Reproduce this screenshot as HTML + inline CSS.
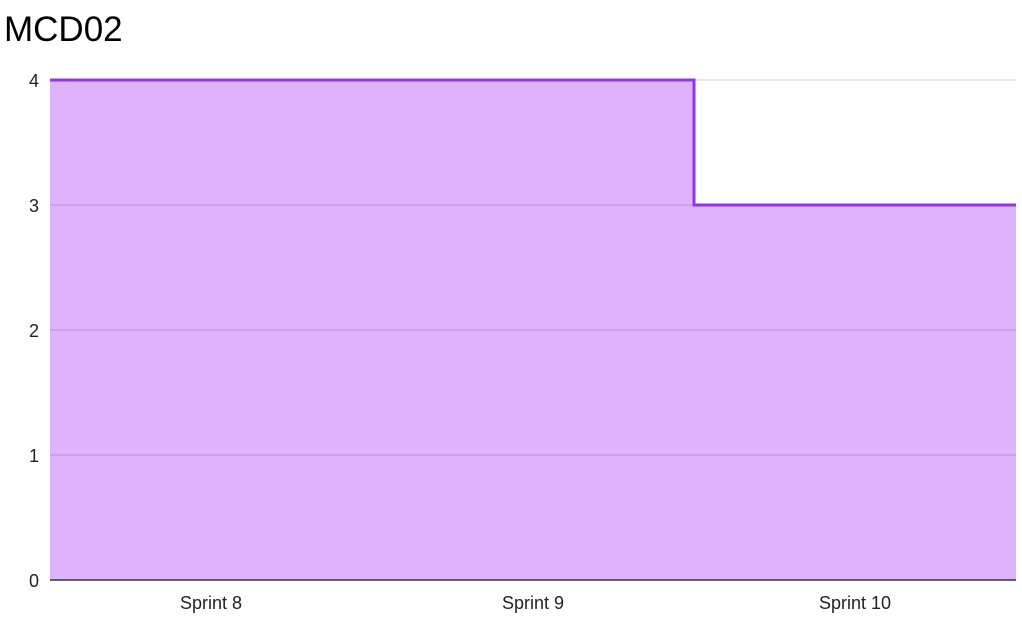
<!DOCTYPE html>
<html><head><meta charset="utf-8"><style>
body{margin:0;background:#fff;width:1022px;height:624px;overflow:hidden;font-family:"Liberation Sans",Arial,sans-serif}
</style></head><body>
<svg width="1022" height="624">
<text x="4" y="41" font-size="35" fill="#000">MCD02</text>
<g id="grid"></g><g id="area"></g><g id="ylabels"></g><g id="xlabels"></g>
</svg>
<script>
const categories=["Sprint 8","Sprint 9","Sprint 10"];
const values=[4,4,3];
const yTicks=[0,1,2,3,4];
const L=50,R=1016,T=80,B=580,yMax=4;
const ns="http://www.w3.org/2000/svg";
const bw=(R-L)/categories.length;
const y=v=>B-(v/yMax)*(B-T);
const x=i=>L+i*bw;
function mk(t,a,p){const e=document.createElementNS(ns,t);for(const k in a)e.setAttribute(k,a[k]);document.getElementById(p).appendChild(e);return e;}
let d="M"+L+","+B;
values.forEach((v,i)=>{d+=" L"+x(i)+","+y(v)+" L"+x(i+1)+","+y(v);});
d+=" L"+R+","+B+" Z";
const a=mk("path",{d:d,fill:"#dfb3fc"},"area");


yTicks.forEach(t=>{
 if(t>0){const g=mk("line",{x1:L,x2:R,y1:y(t),y2:y(t),stroke:"#cccccc","stroke-width":1},"grid");
 
 }
 const tx=mk("text",{x:39,y:y(t)+7,"font-size":18,"text-anchor":"end",fill:"#222"},"ylabels");
 tx.textContent=t;
 
 
});
yTicks.forEach(t=>{if(t>0&&t<yMax){const g=mk("line",{x1:L,x2:R,y1:y(t),y2:y(t),stroke:"#b98fd6","stroke-width":1},"area");
 
 }});
let ld="";
values.forEach((v,i)=>{ld+=(i?" L":"M")+x(i)+","+y(v)+" L"+x(i+1)+","+y(v);});
const ln=mk("path",{d:ld,fill:"none",stroke:"#9334e6","stroke-width":3},"area");


const ax=mk("line",{x1:L,x2:R,y1:B,y2:B,stroke:"#333","stroke-width":1.5},"area");


categories.forEach((c,i)=>{
 const tx=mk("text",{x:x(i)+bw/2,y:609,"font-size":18,"text-anchor":"middle",fill:"#222"},"xlabels");
 tx.textContent=c;
 
 
});
</script>
</body></html>
